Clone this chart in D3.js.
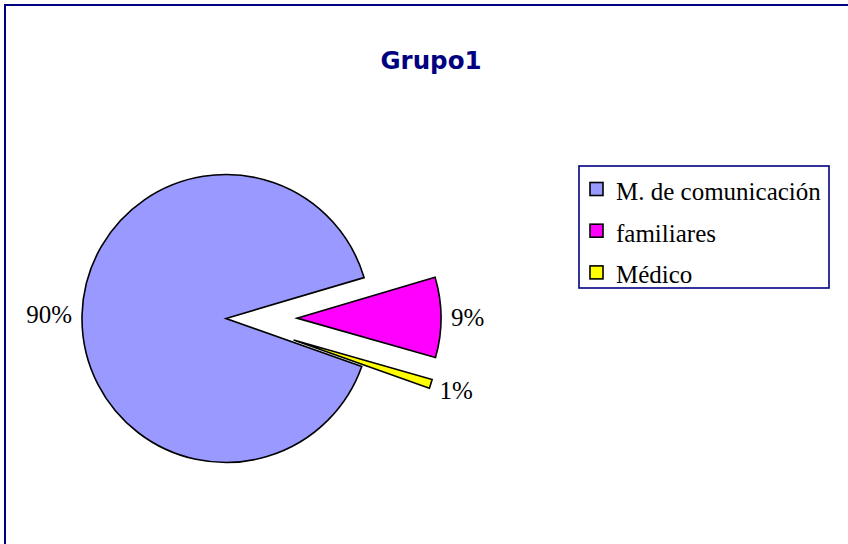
<!DOCTYPE html>
<html>
<head>
<meta charset="utf-8">
<title>Grupo1</title>
<script src="https://d3js.org/d3.v7.min.js"></script>
<style>
  body { margin: 0; background: #fff; }
  .lbl { font: 25px 'Liberation Serif', 'Times New Roman', serif; fill: #000; }
  .title { font: bold 24.5px 'DejaVu Sans', Verdana, sans-serif; fill: #000080; }
</style>
</head>
<body>
<svg width="848" height="544"></svg>
<script>
// data
var categories = ["M. de comunicación", "familiares", "Médico"];
var values = [90, 9, 1];
var colors = ["#9999FF", "#FF00FF", "#FFFF00"];
var exploded = [false, true, true];

var svg = d3.select("svg"),
    cx = 226, cy = 318.5, r = 144, explode = 71;

// chart border (runs off the right and bottom of the picture)
svg.append("rect")
    .attr("x", 5).attr("y", 5)
    .attr("width", 900).attr("height", 600)
    .attr("fill", "none")
    .attr("stroke", "#000080")
    .attr("stroke-width", 2);

svg.append("text")
    .attr("class", "title")
    .attr("x", 431).attr("y", 69)
    .attr("text-anchor", "middle")
    .text("Grupo1");

var total = d3.sum(values);
var pie = d3.pie().sort(null)
    .startAngle(109.5 * Math.PI / 180)
    .endAngle(109.5 * Math.PI / 180 + 2 * Math.PI);
var arc = d3.arc().innerRadius(0).outerRadius(r);
var arcs = pie(values);

var g = svg.append("g").attr("transform", "translate(" + cx + "," + cy + ")");

var slice = g.selectAll("g.slice")
    .data(arcs)
  .enter().append("g")
    .attr("class", "slice")
    .attr("transform", function(d, i) {
      if (!exploded[i]) return null;
      var a = (d.startAngle + d.endAngle) / 2;
      return "translate(" + (explode * Math.sin(a)) + "," + (-explode * Math.cos(a)) + ")";
    });

slice.append("path")
    .attr("d", arc)
    .attr("fill", function(d, i) { return colors[i]; })
    .attr("stroke", "#000")
    .attr("stroke-width", 1.6)
    .attr("stroke-linejoin", "miter");

// percentage labels placed outside the slice, box touching the rim
slice.append("text")
    .attr("class", "lbl")
    .text(function(d) { return Math.round(d.value / total * 100) + "%"; })
    .each(function(d) {
      var a = (d.startAngle + d.endAngle) / 2,
          s = Math.sin(a), c = -Math.cos(a),
          bb = this.getBBox(),
          w = bb.width, h = 25;
      d3.select(this)
        .attr("text-anchor", "middle")
        .attr("dy", "0.35em")
        .attr("x", (r + 10) * s + s * w / 2)
        .attr("y", (r + 10) * c + c * h / 2);
    });

// legend
var lg = svg.append("g").attr("transform", "translate(579,166)");
lg.append("rect")
    .attr("width", 250).attr("height", 122)
    .attr("fill", "#fff")
    .attr("stroke", "#000080")
    .attr("stroke-width", 1.6);

var item = lg.selectAll("g.item")
    .data(categories)
  .enter().append("g")
    .attr("class", "item")
    .attr("transform", function(d, i) { return "translate(0," + (23.5 + i * 41.7) + ")"; });

item.append("rect")
    .attr("x", 11).attr("y", -7)
    .attr("width", 13).attr("height", 13)
    .attr("fill", function(d, i) { return colors[i]; })
    .attr("stroke", "#000")
    .attr("stroke-width", 1.6);

item.append("text")
    .attr("class", "lbl")
    .attr("x", 37).attr("y", 10.5)
    .text(function(d) { return d; });
</script>
</body>
</html>
